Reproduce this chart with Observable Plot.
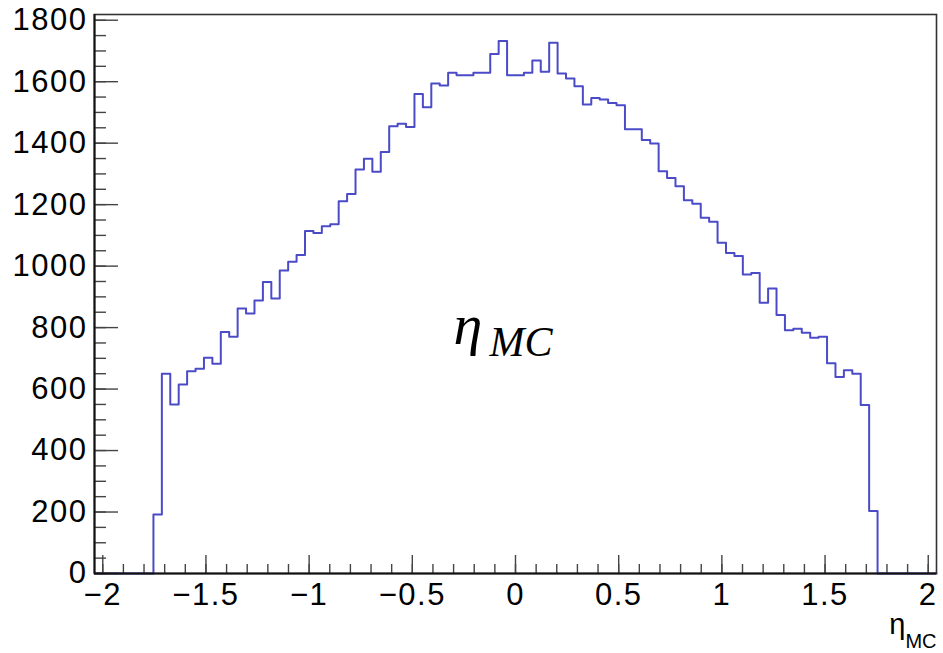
<!DOCTYPE html>
<html><head><meta charset="utf-8">
<script src="https://cdn.jsdelivr.net/npm/d3@7"></script>
<script src="https://cdn.jsdelivr.net/npm/@observablehq/plot@0.6"></script>
<style>body{margin:0;background:#fff}</style>
</head><body><div id="chart"></div>
<script>
// Histogram definition (ROOT-style TH1: 100 bins over [-2.04, 2.04])
const binLow = -2.04;
const binHigh = 2.04;
const counts = [
  0,0,0,0,0,0,0,
  192,650,550,615,658,666,702,682,786,770,
  862,846,888,948,895,986,1014,1036,1114,1108,
  1130,1136,1211,1235,1314,1349,1307,1371,1455,1463,
  1453,1560,1517,1594,1588,1629,1621,1621,1629,1629,
  1690,1732,1621,1621,1629,1669,1632,1727,1627,1610,
  1585,1526,1547,1542,1531,1523,1445,1445,1410,1399,
  1309,1287,1260,1214,1203,1157,1144,1076,1043,1033,
  973,978,881,927,841,791,796,783,767,770,
  684,639,661,650,548,203,
  0,0,0,0,0,0,0
];
const yMax = 1818.6;
const xMajor = [-2,-1.5,-1,-0.5,0,0.5,1,1.5,2];
const xMinor = [-2,-1.9,-1.8,-1.7,-1.6,-1.5,-1.4,-1.3,-1.2,-1.1,-1,-0.9,-0.8,-0.7,-0.6,-0.5,-0.4,-0.3,-0.2,-0.1,0,0.1,0.2,0.3,0.4,0.5,0.6,0.7,0.8,0.9,1,1.1,1.2,1.3,1.4,1.5,1.6,1.7,1.8,1.9,2];
const yMajor = [0,200,400,600,800,1000,1200,1400,1600,1800];
const yMinor = [0,50,100,150,200,250,300,350,400,450,500,550,600,650,700,750,800,850,900,950,1000,1050,1100,1150,1200,1250,1300,1350,1400,1450,1500,1550,1600,1650,1700,1750,1800];
const titleMain = "η";
const titleSub = "MC";

const W = 943, H = 653, mL = 94, mR = 7, mT = 14, mB = 80;
const frameW = W - mL - mR, frameH = H - mT - mB;

const binW = (binHigh - binLow) / counts.length;
const pts = counts.map((c, i) => ({x: binLow + i * binW, y: c}));
pts.push({x: binHigh, y: counts[counts.length - 1]});

const fmt = d => d < 0 ? "\u2212" + String(Math.abs(d)) : String(d);

const chart = Plot.plot({
  width: W, height: H,
  marginLeft: mL, marginRight: mR, marginTop: mT, marginBottom: mB,
  style: {background: "white", fontFamily: "'Liberation Sans', Arial, Helvetica, sans-serif", fontSize: "31px", color: "black", overflow: "visible"},
  x: {domain: [binLow, binHigh]},
  y: {domain: [0, yMax]},
  marks: [
    Plot.line(pts, {x: "x", y: "y", curve: "step-after", stroke: "#4b4bc8", strokeWidth: 2}),
    Plot.tickY(yMinor, {y: d => d, insetRight: frameW - 12, stroke: "#444", strokeWidth: 1.4}),
    Plot.tickY(yMajor, {y: d => d, insetRight: frameW - 24, stroke: "#444", strokeWidth: 1.4}),
    Plot.tickX(xMinor, {x: d => d, insetTop: frameH - 9, stroke: "#444", strokeWidth: 1.4}),
    Plot.tickX(xMajor, {x: d => d, insetTop: frameH - 18, stroke: "#444", strokeWidth: 1.4}),
    Plot.frame({stroke: "#333", strokeWidth: 1.6}),
    Plot.ruleY([0], {stroke: "#111", strokeWidth: 2}),
    Plot.ruleX([binLow], {stroke: "#111", strokeWidth: 2}),
    Plot.axisY({ticks: yMajor, tickSize: 0, tickPadding: 7, tickFormat: d => String(d), label: null, fill: "black", fontSize: 31}),
    Plot.axisX({ticks: xMajor, tickSize: 0, tickPadding: 9, tickFormat: fmt, label: null, fill: "black", fontSize: 31}),
    // axis title (bottom right)
    Plot.text([titleMain], {text: d => d, frameAnchor: "bottom-right", textAnchor: "end", lineAnchor: "bottom", dx: -31, dy: 60, fontSize: 29, fill: "black"}),
    Plot.text([titleSub], {text: d => d, frameAnchor: "bottom-right", textAnchor: "end", lineAnchor: "bottom", dx: 0, dy: 74, fontSize: 20, fill: "black"}),
    // big annotation in the middle
    Plot.text([titleMain], {text: d => d, frameAnchor: "middle", textAnchor: "start", lineAnchor: "bottom", dx: -62, dy: 50, fontSize: 58, fontStyle: "italic", fontFamily: "'Liberation Serif', 'DejaVu Serif', serif", fill: "black"}),
    Plot.text([titleSub], {text: d => d, frameAnchor: "middle", textAnchor: "start", lineAnchor: "bottom", dx: -26, dy: 62, fontSize: 42, fontStyle: "italic", fontFamily: "'Liberation Serif', 'DejaVu Serif', serif", fill: "black"})
  ]
});
// slightly wider tick labels, as in the reference rendering
d3.select(chart).selectAll("g[aria-label='y-axis tick label'] text, g[aria-label='x-axis tick label'] text")
  .attr("letter-spacing", "1.5px");
document.getElementById("chart").appendChild(chart);
</script>
</body></html>
